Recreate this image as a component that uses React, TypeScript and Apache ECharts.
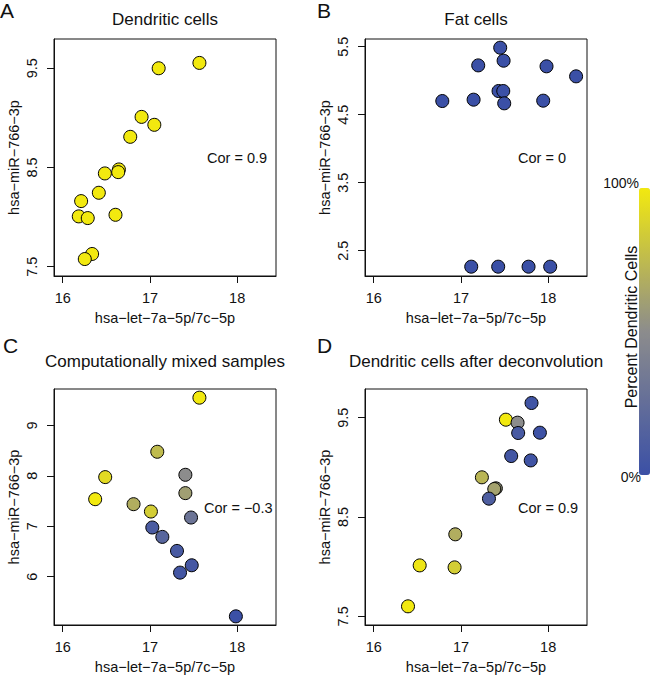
import React, { useEffect, useRef } from "react";
import * as echarts from "echarts";

// ---- Data ----
const panelTitles = ["Dendritic cells", "Fat cells", "Computationally mixed samples", "Dendritic cells after deconvolution"];
const panelLetters = ["A", "B", "C", "D"];
const corLabels = ["Cor = 0.9", "Cor = 0", "Cor = \u22120.3", "Cor = 0.9"];
const xTicks = [16, 17, 18];
const yTicksA = [7.5, 8.5, 9.5];
const yTicksB = [2.5, 3.5, 4.5, 5.5];
const yTicksC = [6, 7, 8, 9];
const yTicksD = [7.5, 8.5, 9.5];

const aX = [17.567, 17.10, 16.904, 17.05, 16.774, 16.644, 16.636, 16.483, 16.414, 16.211, 16.605, 16.184, 16.287, 16.337, 16.253];
const aY = [9.554, 9.5, 9.01, 8.93, 8.809, 8.48, 8.453, 8.44, 8.245, 8.161, 8.023, 8.007, 7.99, 7.628, 7.577];
const aPct = [100, 100, 100, 100, 100, 100, 100, 100, 100, 100, 100, 100, 100, 100, 100];

const bX = [17.45, 17.489, 17.198, 17.981, 18.32, 17.431, 17.485, 16.786, 17.145, 17.496, 17.943, 17.118, 17.427, 17.775, 18.023];
const bY = [5.485, 5.294, 5.225, 5.211, 5.064, 4.848, 4.848, 4.701, 4.721, 4.667, 4.706, 2.265, 2.265, 2.265, 2.265];
const bPct = [0, 0, 0, 0, 0, 0, 0, 0, 0, 0, 0, 0, 0, 0, 0];

const cX = [17.567, 17.084, 16.487, 17.406, 16.372, 17.406, 16.812, 17.011, 17.471, 17.027, 17.142, 17.31, 17.479, 17.345, 17.985];
const cY = [9.55, 8.477, 7.974, 8.02, 7.536, 7.656, 7.437, 7.291, 7.172, 6.974, 6.788, 6.51, 6.225, 6.079, 5.212];
const cPct = [100, 75, 92, 50, 100, 60, 68, 85, 30, 10, 18, 8, 6, 5, 0];

const dX = [17.809, 17.515, 17.649, 17.656, 17.905, 17.576, 17.80, 17.24, 17.40, 17.382, 17.321, 16.935, 16.527, 16.927, 16.393];
const dY = [9.648, 9.48, 9.45, 9.346, 9.349, 9.114, 9.07, 8.9, 8.789, 8.782, 8.685, 8.326, 8.013, 7.993, 7.601];
const dPct = [3, 100, 50, 8, 2, 5, 3, 72, 55, 62, 12, 68, 98, 85, 100];

const colorRamp = ["#3B50A6", "#8C8C8C", "#F2E90F"];
const legendTicks = ["100%", "0%"];
const legendTitle = "Percent Dendritic Cells";
const xTitle = "hsa\u2212let\u22127a\u22125p/7c\u22125p";
const yTitle = "hsa\u2212miR\u2212766\u22123p";

const FONT = "Liberation Sans, Arial, sans-serif";
const INK = "#111";

export default function App() {
  const ref = useRef<HTMLDivElement>(null);
  useEffect(() => {
    if (!ref.current) return;
    const chart = echarts.init(ref.current, null, { renderer: "svg" });

    const xs = [aX, bX, cX, dX];
    const ys = [aY, bY, cY, dY];
    const ps = [aPct, bPct, cPct, dPct];
    const yTicks = [yTicksA, yTicksB, yTicksC, yTicksD];
    const yRanges = [[7.406, 9.795], [2.128, 5.613], [5.04, 9.722], [7.413, 9.789]];
    const grids = [
      { left: 54, top: 39, width: 222, height: 237 },
      { left: 365, top: 39, width: 222, height: 237 },
      { left: 54, top: 389, width: 222, height: 236 },
      { left: 365, top: 389, width: 222, height: 236 },
    ];
    const cors = [
      { x: 207, y: 158 },
      { x: 518, y: 158 },
      { x: 204, y: 508 },
      { x: 518, y: 508 },
    ];
    const letters = [
      { x: 0, y: 10 },
      { x: 317, y: 10 },
      { x: 3, y: 345 },
      { x: 317, y: 345 },
    ];

    const axisCommon = {
      splitLine: { show: false },
      axisLine: { show: true, lineStyle: { color: INK, width: 1 } },
      nameTextStyle: { fontFamily: FONT, fontSize: 14.5, color: INK },
    };

    const option: any = {
      animation: false,
      grid: grids.map((g) => ({ ...g, show: true, borderColor: INK, borderWidth: 1, containLabel: false })),
      xAxis: grids.map((_, i) => ({
        ...axisCommon,
        type: "value",
        gridIndex: i,
        min: 15.9,
        max: 18.445,
        name: xTitle,
        nameLocation: "middle",
        nameGap: 34,
        axisTick: { show: true, inside: false, length: 7, customValues: xTicks, lineStyle: { color: INK } },
        axisLabel: { customValues: xTicks, margin: 14, fontFamily: FONT, fontSize: 14.5, color: INK },
      })),
      yAxis: grids.map((_, i) => ({
        ...axisCommon,
        type: "value",
        gridIndex: i,
        min: yRanges[i][0],
        max: yRanges[i][1],
        name: yTitle,
        nameLocation: "middle",
        nameRotate: 90,
        nameGap: 33,
        axisTick: { show: true, inside: false, length: 7, customValues: yTicks[i], lineStyle: { color: INK } },
        axisLabel: { customValues: yTicks[i], rotate: 90, margin: 15, fontFamily: FONT, fontSize: 14.5, color: INK },
      })),
      title: grids.map((g, i) => ({
        text: panelTitles[i],
        left: g.left + g.width / 2,
        top: i < 2 ? 11 : 353,
        textAlign: "center",
        padding: 0,
        textStyle: { fontFamily: FONT, fontSize: 17, fontWeight: "normal", color: INK },
      })),
      visualMap: {
        type: "continuous",
        min: 0,
        max: 100,
        dimension: 2,
        seriesIndex: [0, 1, 2, 3],
        inRange: { color: colorRamp },
        calculable: false,
        orient: "vertical",
        left: 639,
        top: 188,
        itemWidth: 11,
        itemHeight: 287,
        padding: 0,
        hoverLink: false,
      },
      series: grids.map((_, i) => ({
        type: "scatter",
        xAxisIndex: i,
        yAxisIndex: i,
        symbol: "circle",
        symbolSize: 13,
        itemStyle: { borderColor: "#000", borderWidth: 1, opacity: 1 },
        data: xs[i].map((x, j) => [x, ys[i][j], ps[i][j]]),
      })),
      graphic: [
        ...cors.map((c, i) => ({
          type: "text",
          x: c.x,
          y: c.y,
          style: { text: corLabels[i], fontFamily: FONT, fontSize: 14.5, fill: INK, textVerticalAlign: "middle" },
        })),
        ...letters.map((l, i) => ({
          type: "text",
          x: l.x,
          y: l.y,
          style: { text: panelLetters[i], fontFamily: FONT, fontSize: 21, fill: INK, textVerticalAlign: "middle" },
        })),
        {
          type: "text",
          x: 639,
          y: 183,
          style: { text: legendTicks[0], fontFamily: FONT, fontSize: 14, fill: INK, textAlign: "right", textVerticalAlign: "middle" },
        },
        {
          type: "text",
          x: 641,
          y: 477,
          style: { text: legendTicks[1], fontFamily: FONT, fontSize: 14, fill: INK, textAlign: "right", textVerticalAlign: "middle" },
        },
        {
          type: "text",
          x: 631,
          y: 327,
          rotation: Math.PI / 2,
          style: { text: legendTitle, fontFamily: FONT, fontSize: 16, fill: INK, textAlign: "center", textVerticalAlign: "middle" },
        },
      ],
    };
    chart.setOption(option);
    return () => chart.dispose();
  }, []);
  return <div ref={ref} style={{ position: "fixed", left: 0, top: 0, width: 650, height: 677, background: "#fff" }} />;
}
